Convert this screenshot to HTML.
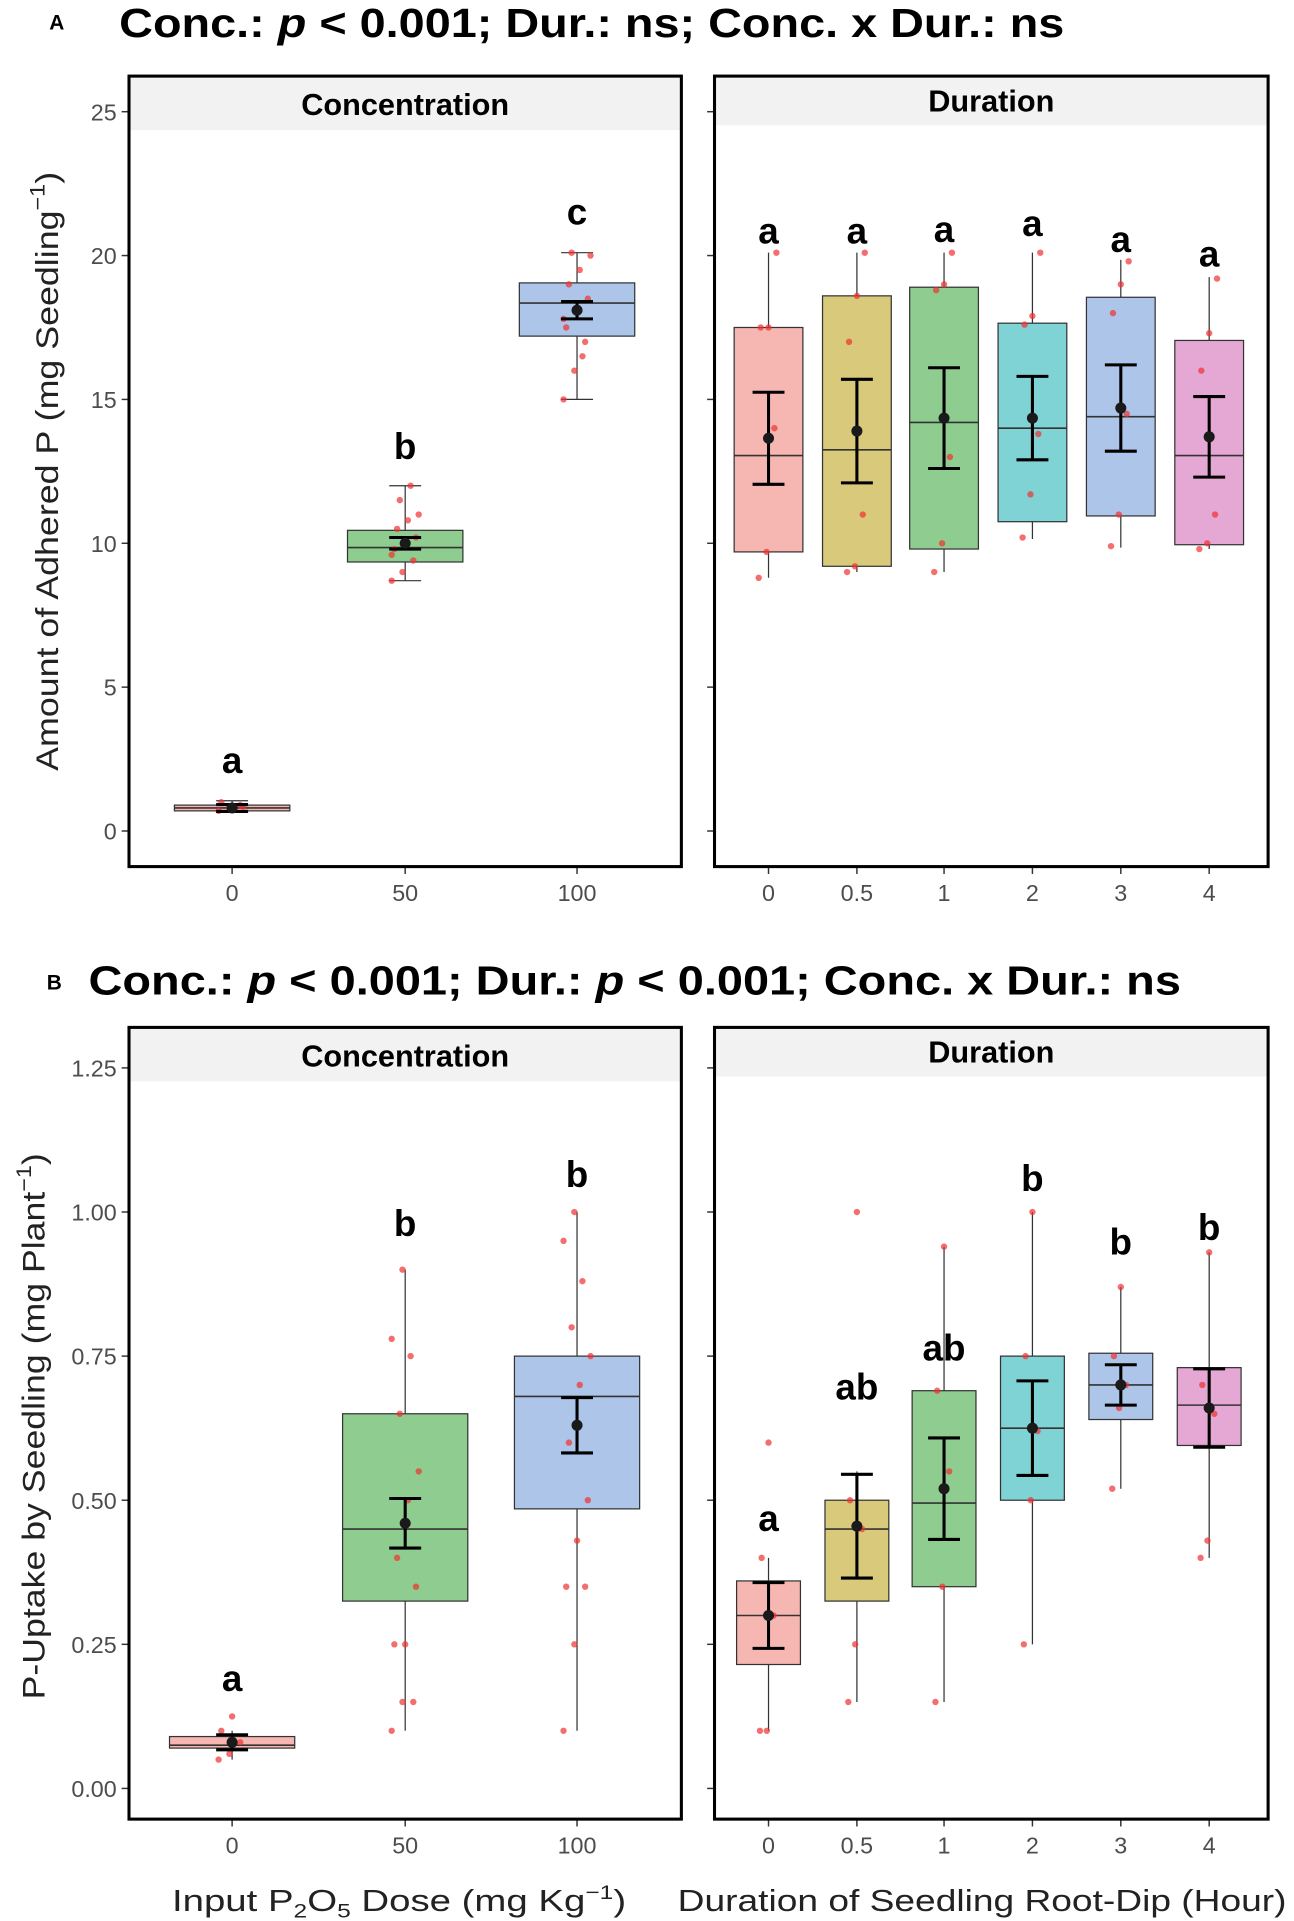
<!DOCTYPE html>
<html><head><meta charset="utf-8"><style>
html,body{margin:0;padding:0;background:#fff;}
svg{display:block;}
text{font-family:"Liberation Sans",sans-serif;}
</style></head><body>
<svg id="chart" width="1294" height="1921" viewBox="0 0 1054 1565" xmlns="http://www.w3.org/2000/svg">
<text x="40" y="24" font-size="17" font-weight="bold">A</text>
<text x="97" y="30" font-size="33" font-weight="bold" textLength="770" lengthAdjust="spacingAndGlyphs">Conc.: <tspan font-style="italic">p</tspan> &lt; 0.001; Dur.: ns;  Conc. x Dur.: ns</text>
<text x="38" y="806" font-size="17" font-weight="bold">B</text>
<text x="72" y="810" font-size="33" font-weight="bold" textLength="890" lengthAdjust="spacingAndGlyphs">Conc.: <tspan font-style="italic">p</tspan> &lt; 0.001; Dur.: <tspan font-style="italic">p</tspan> &lt; 0.001; Conc. x Dur.: ns</text>
<text transform="translate(47,384) rotate(-90)" text-anchor="middle" font-size="26" fill="#222" textLength="488" lengthAdjust="spacingAndGlyphs">Amount of Adhered P (mg Seedling<tspan dy="-11" font-size="17">−1</tspan><tspan dy="11">)</tspan></text>
<text transform="translate(36,1162) rotate(-90)" text-anchor="middle" font-size="26" fill="#222" textLength="445" lengthAdjust="spacingAndGlyphs">P-Uptake by Seedling (mg Plant<tspan dy="-11" font-size="17">−1</tspan><tspan dy="11">)</tspan></text>
<text x="140" y="1557" font-size="25" fill="#222" textLength="370" lengthAdjust="spacingAndGlyphs">Input P<tspan dy="5" font-size="16">2</tspan><tspan dy="-5">O</tspan><tspan dy="5" font-size="16">5</tspan><tspan dy="-5"> Dose (mg Kg</tspan><tspan dy="-10" font-size="16">−1</tspan><tspan dy="10">)</tspan></text>
<text x="552" y="1557" font-size="25" fill="#222" textLength="496" lengthAdjust="spacingAndGlyphs">Duration of Seedling Root-Dip (Hour)</text>
<g id="plots"></g>
</svg>
<script>
// ---- data ----
const concCats = ["0","50","100"];
const durCats = ["0","0.5","1","2","3","4"];
const ticksA = [0,5,10,15,20,25];
const ticksB = [0,0.25,0.5,0.75,1.0,1.25];
const tickLabelsB = ["0.00","0.25","0.50","0.75","1.00","1.25"];
// [whiskLo, q1, median, q3, whiskHi]
const aConcBox = [[0.65,0.7,0.8,0.9,1.05],[8.7,9.35,9.85,10.45,12.0],[15.0,17.2,18.35,19.05,20.1]];
const aConcMean = [0.8,10.0,18.1];
const aConcSE = [0.12,0.2,0.3];
const aConcLetters = ["a","b","c"];
const aConcLetterPos = [2.45,13.35,21.5];
const aDurBox = [[8.8,9.7,13.05,17.5,20.1],[9.0,9.2,13.25,18.6,20.1],[9.0,9.8,14.2,18.9,20.1],[10.15,10.75,14.0,17.65,20.1],[9.85,10.95,14.4,18.55,19.85],[9.8,9.95,13.05,17.05,19.25]];
const aDurMean = [13.65,13.9,14.35,14.35,14.7,13.7];
const aDurSE = [1.6,1.8,1.75,1.45,1.5,1.4];
const aDurLetters = ["a","a","a","a","a","a"];
const aDurLetterPos = [20.85,20.85,20.9,21.1,20.55,20.05];
const bConcBox = [[0.05,0.07,0.075,0.09,0.1],[0.1,0.325,0.45,0.65,0.9],[0.1,0.485,0.68,0.75,1.0]];
const bConcMean = [0.08,0.46,0.63];
const bConcSE = [0.013,0.043,0.048];
const bConcLetters = ["a","b","b"];
const bConcLetterPos = [0.19,0.98,1.065];
const bDurBox = [[0.1,0.215,0.3,0.36,0.4],[0.15,0.325,0.45,0.5,0.55],[0.15,0.35,0.495,0.69,0.94],[0.25,0.5,0.625,0.75,1.0],[0.52,0.64,0.70,0.755,0.87],[0.4,0.595,0.665,0.73,0.93]];
const bDurMean = [0.30,0.455,0.52,0.625,0.70,0.66];
const bDurSE = [0.057,0.09,0.088,0.082,0.035,0.068];
const bDurLetters = ["a","ab","ab","b","b","b"];
const bDurLetterPos = [0.468,0.696,0.764,1.058,0.948,0.973];
const aConcPts = [[0.7,0.8,0.9,1.0,0.75,0.85],[8.7,9.0,9.4,9.8,10.0,10.2,10.5,10.8,11.0,11.5,12.0,9.6],[15.0,16.0,17.0,17.5,18.0,18.5,19.0,19.5,20.0,20.1,16.5,17.8]];
const aDurPts = [[8.8,9.7,14.0,17.5,17.5,20.1],[9.0,9.2,11.0,17.0,18.6,20.1],[9.0,10.0,13.0,18.8,19.0,20.1],[10.2,11.7,13.8,17.6,17.9,20.1],[9.9,11.0,14.5,18.0,19.0,19.8],[9.8,10.0,11.0,16.0,17.3,19.2]];
const bConcPts = [[0.05,0.06,0.08,0.1,0.125],[0.1,0.15,0.15,0.25,0.25,0.35,0.4,0.5,0.55,0.65,0.75,0.78,0.9],[0.1,0.25,0.35,0.35,0.43,0.5,0.6,0.7,0.75,0.8,0.88,0.95,1.0]];
const bDurPts = [[0.1,0.1,0.3,0.4,0.6],[0.15,0.25,0.45,0.5,1.0],[0.15,0.35,0.55,0.69,0.94],[0.25,0.5,0.62,0.75,1.0],[0.52,0.66,0.7,0.75,0.87],[0.4,0.43,0.65,0.7,0.93]];
const concColors = ["#F6B7B2","#8FCC8F","#ADC5E8"];
const durColors = ["#F6B7B2","#D9C97A","#8FCC8F","#7FD3D5","#ADC5E8","#E5A8D4"];

const NS="http://www.w3.org/2000/svg";
const root=document.getElementById('plots');
function mk(tag,attrs,parent){const e=document.createElementNS(NS,tag);for(const k in attrs)e.setAttribute(k,attrs[k]);(parent||root).appendChild(e);return e;}

function panel(cfg){
  const g=mk('g',{});
  
  
  const y=v=>cfg.y0+(v-cfg.vmin)*(cfg.y1-cfg.y0)/(cfg.vmax-cfg.vmin);
  const x=i=>cfg.xs[i];
  mk('rect',{x:cfg.L,y:cfg.T,width:cfg.R-cfg.L,height:cfg.strip,fill:'#f2f2f2'},g);
  const st=mk('text',{x:(cfg.L+cfg.R)/2,y:cfg.T+cfg.strip*0.72,'text-anchor':'middle','font-size':25,'font-weight':'bold'},g);
  st.textContent=cfg.title;
  
  
  cfg.ticks.forEach((t,i)=>{
    mk('line',{x1:cfg.L-6,x2:cfg.L,y1:y(t),y2:y(t),stroke:'#333','stroke-width':1.2},g);
    if(cfg.showY){const tl=mk('text',{x:cfg.L-10,y:y(t)+7,'text-anchor':'end','font-size':19,fill:'#4d4d4d'},g);tl.textContent=cfg.tickLabels?cfg.tickLabels[i]:String(t);
      
      }
  });
  cfg.cats.forEach((c,i)=>{
    mk('line',{x1:x(i),x2:x(i),y1:cfg.B,y2:cfg.B+6,stroke:'#333','stroke-width':1.2},g);
    const tl=mk('text',{x:x(i),y:cfg.B+28,'text-anchor':'middle','font-size':19,fill:'#4d4d4d'},g);tl.textContent=c;
    
    
    const b=cfg.box[i];
    const bg=mk('g',{},g);
    
    
    mk('line',{x1:x(i),x2:x(i),y1:y(b[0]),y2:y(b[4]),stroke:'#333','stroke-width':1},bg);
    mk('line',{x1:x(i)-cfg.cap/2,x2:x(i)+cfg.cap/2,y1:y(b[0]),y2:y(b[0]),stroke:'#333','stroke-width':1},bg);
    mk('line',{x1:x(i)-cfg.cap/2,x2:x(i)+cfg.cap/2,y1:y(b[4]),y2:y(b[4]),stroke:'#333','stroke-width':1},bg);
    mk('rect',{x:x(i)-cfg.bw/2,y:y(b[3]),width:cfg.bw,height:Math.max(1,y(b[1])-y(b[3])),fill:cfg.colors[i],stroke:'#333','stroke-width':1},bg);
    mk('line',{x1:x(i)-cfg.bw/2,x2:x(i)+cfg.bw/2,y1:y(b[2]),y2:y(b[2]),stroke:'#333','stroke-width':1.3},bg);
    cfg.pts[i].forEach((p,j)=>{
      const dx=((j*37)%11-5)*cfg.jit;
      const d=mk('circle',{cx:x(i)+dx,cy:y(p),r:2.6,fill:'#f03030','fill-opacity':0.7},bg);
      
      
    });
    const m=cfg.mean[i],s=cfg.se[i];
    mk('line',{x1:x(i),x2:x(i),y1:y(m-s),y2:y(m+s),stroke:'#000','stroke-width':2.5},bg);
    mk('line',{x1:x(i)-13,x2:x(i)+13,y1:y(m-s),y2:y(m-s),stroke:'#000','stroke-width':2.5},bg);
    mk('line',{x1:x(i)-13,x2:x(i)+13,y1:y(m+s),y2:y(m+s),stroke:'#000','stroke-width':2.5},bg);
    mk('circle',{cx:x(i),cy:y(m),r:4.5,fill:'#1a1a1a'},bg);
    const lt=mk('text',{x:x(i),y:y(cfg.lpos[i])+10,'text-anchor':'middle','font-size':30,'font-weight':'bold'},bg);lt.textContent=cfg.letters[i];
    
    
  });
  mk('rect',{x:cfg.L,y:cfg.T,width:cfg.R-cfg.L,height:cfg.B-cfg.T,fill:'none',stroke:'#000','stroke-width':2.5},g);
}
const concX=[189,330,470], durX=[626,698,769,841,913,985];
panel({name:'panel-a-concentration',L:105,R:555,T:62,B:706,strip:44,title:'Concentration',y0:677,y1:91,vmin:0,vmax:25,ticks:ticksA,showY:true,xs:concX,cats:concCats,box:aConcBox,mean:aConcMean,se:aConcSE,letters:aConcLetters,lpos:aConcLetterPos,colors:concColors,pts:aConcPts,bw:94,cap:26,jit:2.2});
panel({name:'panel-a-duration',L:582,R:1033,T:62,B:706,strip:40,title:'Duration',y0:677,y1:91,vmin:0,vmax:25,ticks:ticksA,showY:false,xs:durX,cats:durCats,box:aDurBox,mean:aDurMean,se:aDurSE,letters:aDurLetters,lpos:aDurLetterPos,colors:durColors,pts:aDurPts,bw:56,cap:0,jit:1.6});
panel({name:'panel-b-concentration',L:105,R:555,T:837,B:1482,strip:44,title:'Concentration',y0:1457,y1:870,vmin:0,vmax:1.25,ticks:ticksB,tickLabels:tickLabelsB,showY:true,xs:concX,cats:concCats,box:bConcBox,mean:bConcMean,se:bConcSE,letters:bConcLetters,lpos:bConcLetterPos,colors:concColors,pts:bConcPts,bw:102,cap:0,jit:2.2});
panel({name:'panel-b-duration',L:582,R:1033,T:837,B:1482,strip:40,title:'Duration',y0:1457,y1:870,vmin:0,vmax:1.25,ticks:ticksB,showY:false,xs:durX,cats:durCats,box:bDurBox,mean:bDurMean,se:bDurSE,letters:bDurLetters,lpos:bDurLetterPos,colors:durColors,pts:bDurPts,bw:52,cap:0,jit:1.4});
</script>
</body></html>
